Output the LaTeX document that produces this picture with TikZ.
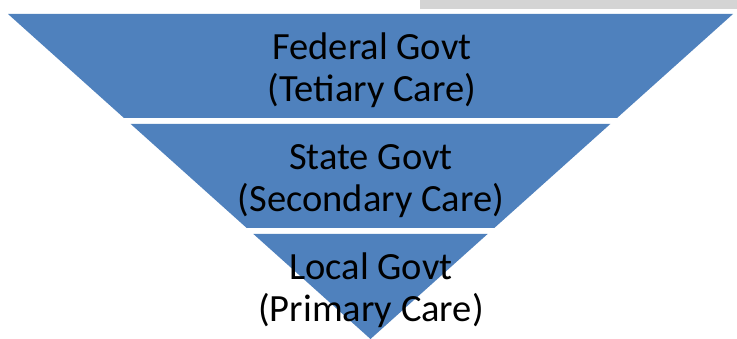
\documentclass[tikz,border=0pt]{standalone}
\usepackage{fontspec}
\setmainfont{Carlito}
\definecolor{bandblue}{HTML}{4F81BD}
\definecolor{stripgray}{HTML}{D4D4D4}
\tikzset{
  band/.style={fill=bandblue, draw=none},
  label/.style={align=center, text=black, font=\fontsize{38.5}{42}\selectfont, inner sep=0pt}
}
\begin{document}
\begin{tikzpicture}[x=1pt,y=-1pt]
\useasboundingbox (0,0) rectangle (737,339);
\fill[white] (0,0) rectangle (737,339);
\fill[stripgray] (420,0) rectangle (737,9);
% bands of the inverted triangle
\path[band] (8,14) -- (733,14) -- (617,118) -- (124,118) -- cycle;
\path[band] (130.7,124) -- (610.3,124) -- (494.3,228) -- (246.7,228) -- cycle;
\path[band] (253.4,234) -- (487.6,234) -- (370.5,339) -- cycle;
% labels
\node[label] (federal) at (372,70) {Federal Govt\\(Tetiary Care)};
\node[label] (state) at (371,181) {State Govt\\(Secondary Care)};
\node[label] (local) at (371,290) {Local Govt\\(Primary Care)};
\end{tikzpicture}
\end{document}
